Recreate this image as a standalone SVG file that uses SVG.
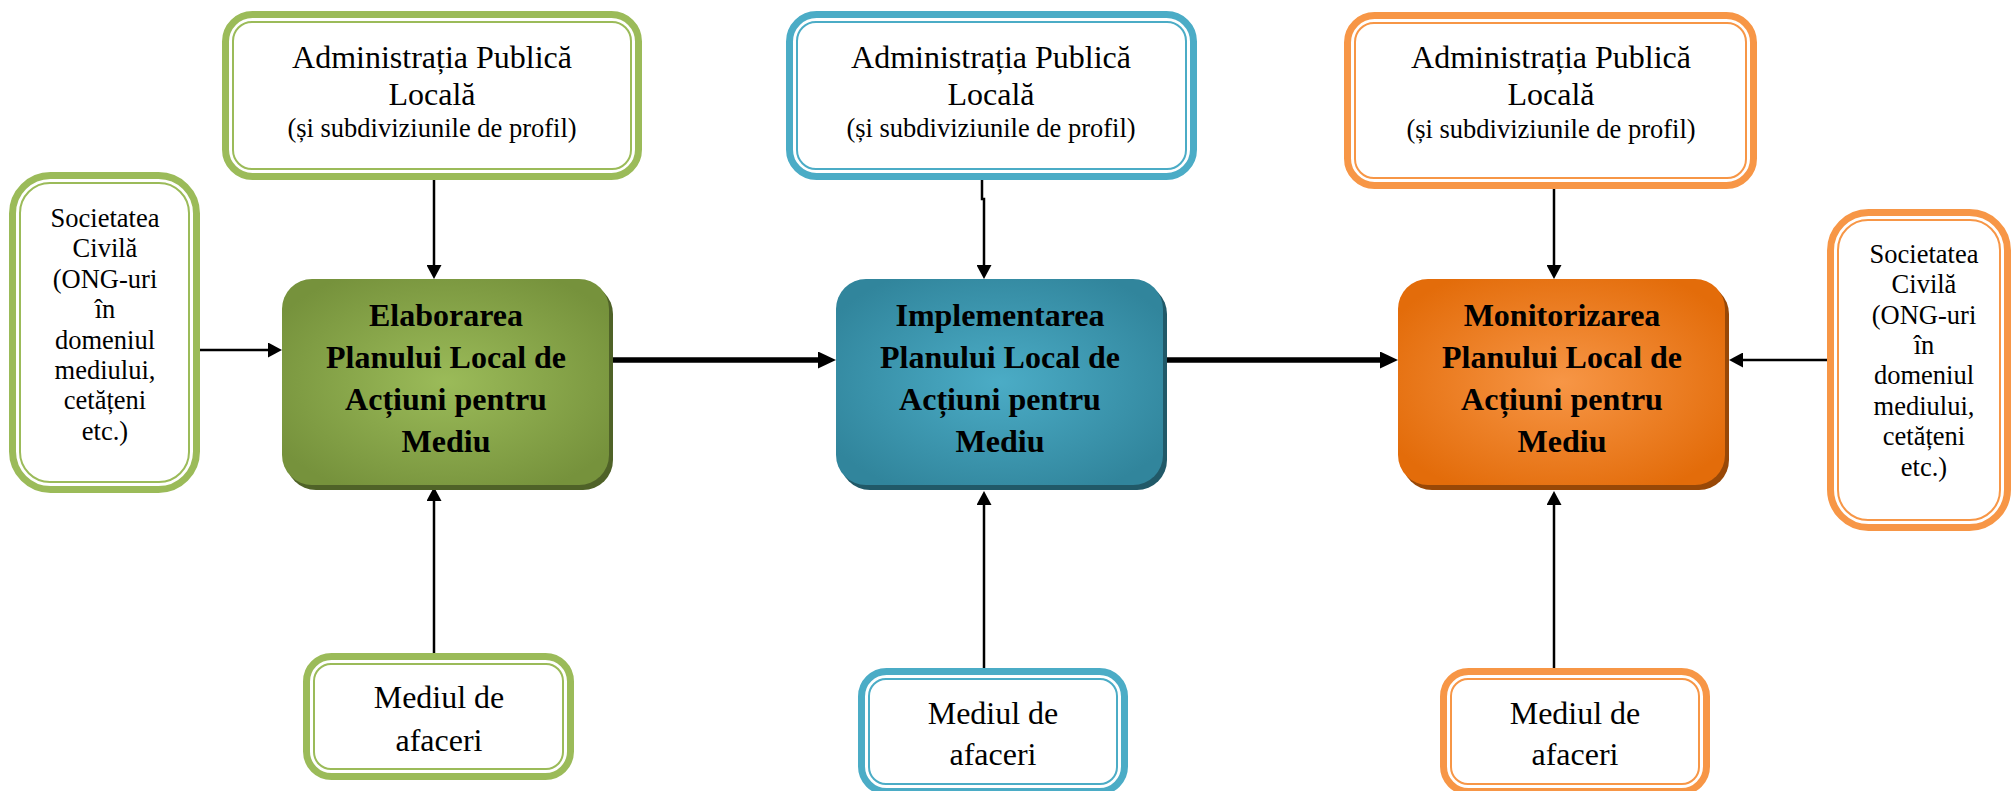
<svg xmlns="http://www.w3.org/2000/svg" width="2011" height="791" viewBox="0 0 2011 791">
<style>
text{font-family:"Liberation Serif","Times New Roman",serif;fill:#000;text-anchor:middle}
.t32{font-size:32px}
.t26{font-size:26.5px}
.b32{font-size:32px;font-weight:bold}
.og{fill:#fff;stroke:#9bbb59;stroke-width:7}
.ig{fill:none;stroke:#9bbb59;stroke-width:2}
.ob{fill:#fff;stroke:#4bacc6;stroke-width:7}
.ib{fill:none;stroke:#4bacc6;stroke-width:2}
.oo{fill:#fff;stroke:#f79646;stroke-width:7}
.io{fill:none;stroke:#f79646;stroke-width:2}
.thin{stroke:#000;stroke-width:2.5;fill:none}
.thick{stroke:#000;stroke-width:5.5;fill:none}
</style>
<defs>
<radialGradient id="gg" cx="50%" cy="50%" r="60%"><stop offset="0" stop-color="#9bbb59"/><stop offset="1" stop-color="#76923c"/></radialGradient>
<radialGradient id="gb" cx="50%" cy="50%" r="60%"><stop offset="0" stop-color="#4bacc6"/><stop offset="1" stop-color="#31859c"/></radialGradient>
<radialGradient id="go" cx="50%" cy="50%" r="60%"><stop offset="0" stop-color="#f79646"/><stop offset="1" stop-color="#e36c0a"/></radialGradient>
<marker id="ah" viewBox="0 0 14 15" markerWidth="14" markerHeight="15" refX="2" refY="7.5" orient="auto" markerUnits="userSpaceOnUse"><path d="M0,0 L14,7.5 L0,15 z" fill="#000"/></marker>
<marker id="ahk" viewBox="0 0 18 17" markerWidth="18" markerHeight="17" refX="2" refY="8.5" orient="auto" markerUnits="userSpaceOnUse"><path d="M0,0 L18,8.5 L0,17 z" fill="#000"/></marker>
</defs>

<g id="connectors">
<line class="thin" x1="434" y1="180" x2="434" y2="267" marker-end="url(#ah)"/>
<path class="thin" d="M982,180 V199 H984 V267" marker-end="url(#ah)"/>
<line class="thin" x1="1554" y1="189" x2="1554" y2="267" marker-end="url(#ah)"/>
<line class="thin" x1="434" y1="653" x2="434" y2="499" marker-end="url(#ah)"/>
<line class="thin" x1="984" y1="668" x2="984" y2="503" marker-end="url(#ah)"/>
<line class="thin" x1="1554" y1="668" x2="1554" y2="503" marker-end="url(#ah)"/>
<line class="thin" x1="200" y1="350" x2="270" y2="350" marker-end="url(#ah)"/>
<line class="thin" x1="1827" y1="360" x2="1741" y2="360" marker-end="url(#ah)"/>
<line class="thick" x1="612" y1="360" x2="820" y2="360" marker-end="url(#ahk)"/>
<line class="thick" x1="1167" y1="360" x2="1382" y2="360" marker-end="url(#ahk)"/>
</g>

<g id="admin-green">
<rect class="og" x="225.5" y="14.5" width="413" height="162" rx="27"/>
<rect class="ig" x="233" y="22" width="398" height="147" rx="19"/>
<text class="t32" x="432" y="68">Administrația Publică</text>
<text class="t32" x="432" y="105">Locală</text>
<text class="t26" x="432" y="137">(și subdiviziunile de profil)</text>
</g>
<g id="admin-blue">
<rect class="ob" x="789.5" y="14.5" width="404" height="162" rx="27"/>
<rect class="ib" x="797" y="22" width="389" height="147" rx="19"/>
<text class="t32" x="991" y="68">Administrația Publică</text>
<text class="t32" x="991" y="105">Locală</text>
<text class="t26" x="991" y="137">(și subdiviziunile de profil)</text>
</g>
<g id="admin-orange">
<rect class="oo" x="1347.5" y="15.5" width="406" height="170" rx="27"/>
<rect class="io" x="1355" y="23" width="391" height="155" rx="19"/>
<text class="t32" x="1551" y="68">Administrația Publică</text>
<text class="t32" x="1551" y="105">Locală</text>
<text class="t26" x="1551" y="137.5">(și subdiviziunile de profil)</text>
</g>

<g id="societate-left">
<rect class="og" x="12.5" y="175.5" width="184" height="314" rx="38"/>
<rect class="ig" x="20" y="183" width="169" height="299" rx="30"/>
<text class="t26" x="105" y="227">Societatea</text>
<text class="t26" x="105" y="257.4">Civilă</text>
<text class="t26" x="105" y="287.8">(ONG-uri</text>
<text class="t26" x="105" y="318.2">în</text>
<text class="t26" x="105" y="348.6">domeniul</text>
<text class="t26" x="105" y="379">mediului,</text>
<text class="t26" x="105" y="409.4">cetățeni</text>
<text class="t26" x="105" y="439.8">etc.)</text>
</g>
<g id="societate-right">
<rect class="oo" x="1830.5" y="212.5" width="177" height="315" rx="38"/>
<rect class="io" x="1838" y="220" width="162" height="300" rx="30"/>
<text class="t26" x="1924" y="262.7">Societatea</text>
<text class="t26" x="1924" y="293.1">Civilă</text>
<text class="t26" x="1924" y="323.5">(ONG-uri</text>
<text class="t26" x="1924" y="353.9">în</text>
<text class="t26" x="1924" y="384.3">domeniul</text>
<text class="t26" x="1924" y="414.7">mediului,</text>
<text class="t26" x="1924" y="445.1">cetățeni</text>
<text class="t26" x="1924" y="475.5">etc.)</text>
</g>

<g id="elaborarea">
<rect x="286" y="284" width="327" height="206" rx="30" fill="#4f6228"/>
<rect x="282" y="279" width="327" height="206" rx="30" fill="url(#gg)"/>
<text class="b32" x="446" y="326">Elaborarea</text>
<text class="b32" x="446" y="368">Planului Local de</text>
<text class="b32" x="446" y="410">Acțiuni pentru</text>
<text class="b32" x="446" y="452">Mediu</text>
</g>
<g id="implementarea">
<rect x="840" y="284" width="327" height="206" rx="30" fill="#215968"/>
<rect x="836" y="279" width="327" height="206" rx="30" fill="url(#gb)"/>
<text class="b32" x="1000" y="326">Implementarea</text>
<text class="b32" x="1000" y="368">Planului Local de</text>
<text class="b32" x="1000" y="410">Acțiuni pentru</text>
<text class="b32" x="1000" y="452">Mediu</text>
</g>
<g id="monitorizarea">
<rect x="1402" y="284" width="327" height="206" rx="30" fill="#984807"/>
<rect x="1398" y="279" width="327" height="206" rx="30" fill="url(#go)"/>
<text class="b32" x="1562" y="326">Monitorizarea</text>
<text class="b32" x="1562" y="368">Planului Local de</text>
<text class="b32" x="1562" y="410">Acțiuni pentru</text>
<text class="b32" x="1562" y="452">Mediu</text>
</g>

<g id="mediul-green">
<rect class="og" x="306.5" y="656.5" width="264" height="120" rx="25"/>
<rect class="ig" x="314" y="664" width="249" height="105" rx="17"/>
<text class="t32" x="439" y="708">Mediul de</text>
<text class="t32" x="439" y="751">afaceri</text>
</g>
<g id="mediul-blue">
<rect class="ob" x="861.5" y="671.5" width="263" height="120" rx="25"/>
<rect class="ib" x="869" y="679" width="248" height="105" rx="17"/>
<text class="t32" x="993" y="724">Mediul de</text>
<text class="t32" x="993" y="765">afaceri</text>
</g>
<g id="mediul-orange">
<rect class="oo" x="1443.5" y="671.5" width="263" height="120" rx="25"/>
<rect class="io" x="1451" y="679" width="248" height="105" rx="17"/>
<text class="t32" x="1575" y="724">Mediul de</text>
<text class="t32" x="1575" y="765">afaceri</text>
</g>
</svg>
